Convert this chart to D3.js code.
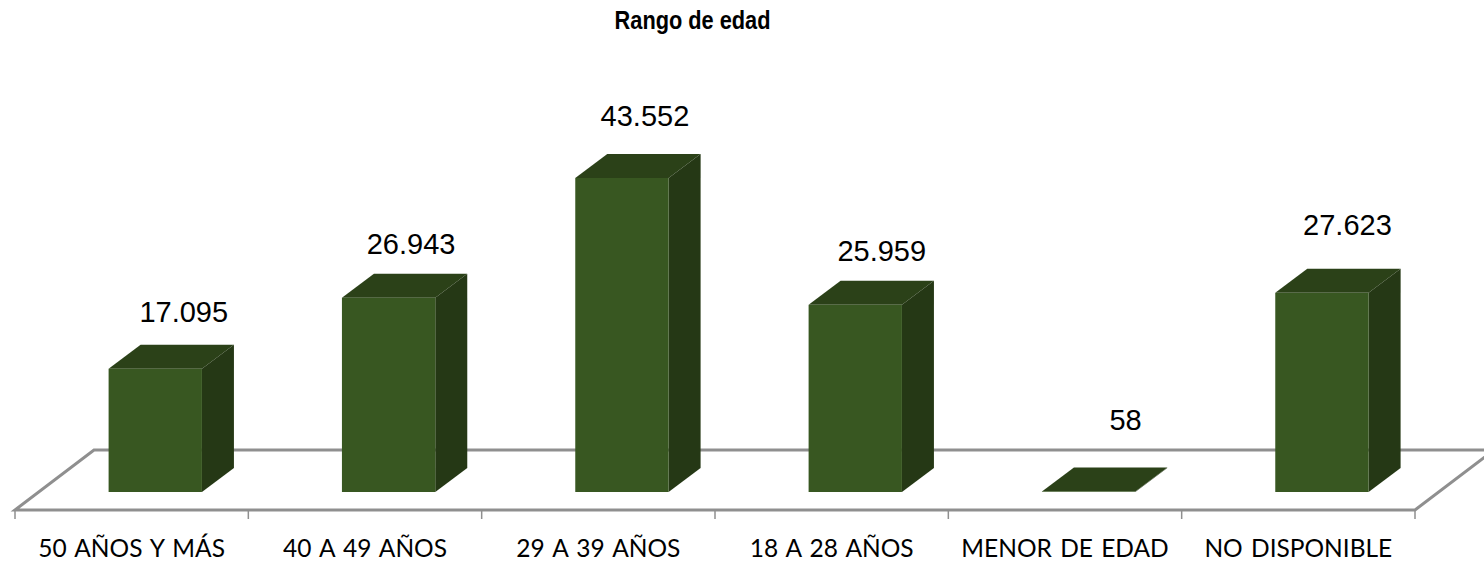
<!DOCTYPE html>
<html>
<head>
    <meta charset="utf-8">
    <title>Rango de edad</title>
    <script src="https://d3js.org/d3.v7.min.js"></script>
    <style>
        html, body { margin: 0; padding: 0; background: #fff; }
        svg { display: block; }
        .title { font: bold 25px "Liberation Sans", Arial, sans-serif; text-anchor: middle; }
        .value { font: 29px "Liberation Sans", Arial, sans-serif; text-anchor: middle; fill: #000; }
        .axis text { font: 24.5px Lato, "Open Sans", sans-serif; fill: #000; word-spacing: 2px; }
        .floor { fill: none; stroke: #8f8f8f; stroke-width: 3px; }
    </style>
</head>
<body>
    <svg width="1484" height="562"></svg>
    <script>
        var categories = ["50 AÑOS Y MÁS", "40 A 49 AÑOS", "29 A 39 AÑOS", "18 A 28 AÑOS", "MENOR DE EDAD", "NO DISPONIBLE"];
        var values = [17095, 26943, 43552, 25959, 58, 27623];
        var valueLabels = ["17.095", "26.943", "43.552", "25.959", "58", "27.623"];

        var svg = d3.select("svg");

        // front edge of the floor and the 3d offsets
        var floorY = 510, floorBackY = 450, floorLeft = 15, floorRight = 1415;
        var floorDx = 79;
        var barLift = 18, barShift = 24;
        var depthX = 32, depthY = 24;
        var barBase = floorY - barLift;

        // labels were placed by hand in the original, so each has its own nudge
        var labelDx = [28.5, 22.5, 23, 26.5, 37, 25.5];
        var labelDy = [47, 44, 52, 44, 62, 58];

        var x = d3.scaleBand().domain(categories).range([floorLeft, floorRight]);
        var y = d3.scaleLinear().domain([0, 43552]).range([barBase, 178]);
        var barWidth = x.bandwidth() * 0.4;

        function barX(d) {
            return x(d) + (x.bandwidth() - barWidth) / 2 + barShift - 0.4;
        }

        // title is a condensed bold in the original
        svg.append("text").attr("class", "title")
            .attr("transform", "translate(692.5,29) scale(0.87,1)")
            .text("Rango de edad");

        // floor outline
        svg.append("path").attr("class", "floor")
            .attr("d", "M" + floorLeft + "," + floorY
                + "L" + (floorLeft + floorDx) + "," + floorBackY
                + "L" + (floorRight + floorDx) + "," + floorBackY
                + "L" + floorRight + "," + floorY + "Z");

        var bars = svg.selectAll(".bar")
            .data(categories)
            .enter().append("g")
            .attr("class", "bar");

        // top
        bars.append("path")
            .attr("fill", "#2b4118")
            .attr("d", function(d, i) {
                var l = barX(d), t = y(values[i]);
                return "M" + l + "," + t
                    + "L" + (l + depthX) + "," + (t - depthY)
                    + "L" + (l + barWidth + depthX) + "," + (t - depthY)
                    + "L" + (l + barWidth) + "," + t + "Z";
            });

        // side
        bars.append("path")
            .attr("fill", "#253815")
            .attr("d", function(d, i) {
                var r = barX(d) + barWidth, t = y(values[i]);
                return "M" + r + "," + t
                    + "L" + (r + depthX) + "," + (t - depthY)
                    + "L" + (r + depthX) + "," + (barBase - depthY)
                    + "L" + r + "," + barBase + "Z";
            });

        // front
        bars.append("rect")
            .attr("fill", "#385721")
            .attr("x", barX)
            .attr("y", function(d, i) { return y(values[i]); })
            .attr("width", barWidth)
            .attr("height", function(d, i) { return barBase - y(values[i]); });

        svg.selectAll(".value")
            .data(categories)
            .enter().append("text")
            .attr("class", "value")
            .attr("x", function(d, i) { return barX(d) + barWidth / 2 + labelDx[i]; })
            .attr("y", function(d, i) { return y(values[i]) - labelDy[i]; })
            .text(function(d, i) { return valueLabels[i]; });

        // category axis, ticks sit on the band edges
        var axis = svg.append("g")
            .attr("class", "axis")
            .attr("transform", "translate(0," + floorY + ")")
            .call(d3.axisBottom(x).tickSize(0).tickPadding(30));
        axis.select(".domain").remove();
        axis.append("g").selectAll("line")
            .data(d3.range(categories.length + 1))
            .enter().append("line")
            .attr("x1", function(i) { return floorLeft + i * x.step(); })
            .attr("x2", function(i) { return floorLeft + i * x.step(); })
            .attr("y1", 0).attr("y2", 9)
            .attr("stroke", "#8f8f8f")
            .attr("stroke-width", 1.5);
    </script>
</body>
</html>
